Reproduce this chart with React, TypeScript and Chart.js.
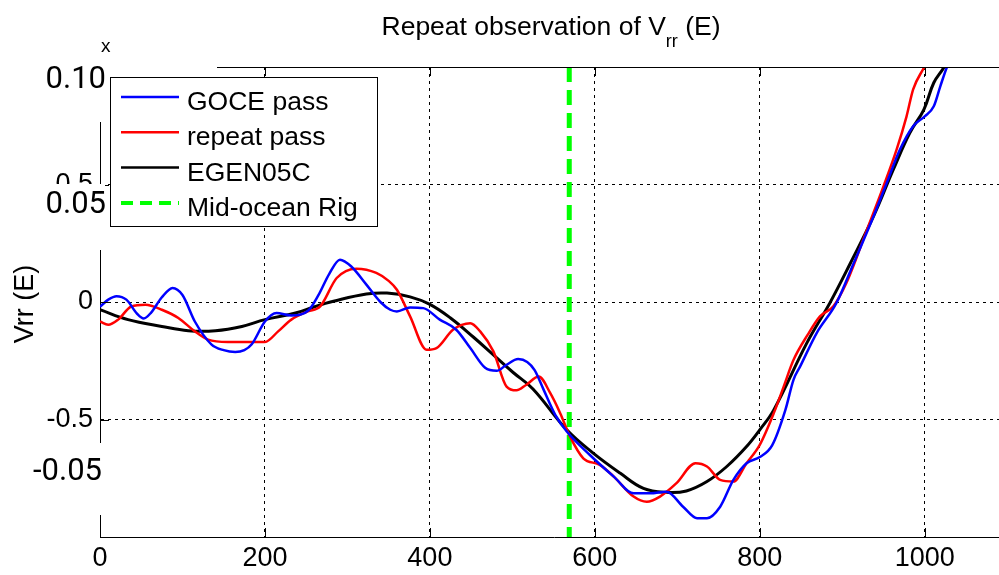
import React, { useEffect, useRef } from 'react';
import { Chart, registerables } from 'chart.js';

Chart.register(...registerables);

// ---- data ----
const goceX = [0, 10, 20, 32, 45, 53, 62, 75, 88, 100, 115, 135, 150, 164, 175, 184, 200, 214, 232, 253, 265, 278, 291, 305, 323, 340, 352, 360, 376, 392, 412, 432, 449, 467, 481, 493, 507, 518, 527, 538, 552, 566, 594, 623, 647, 667, 687, 707, 724, 736, 752, 768, 784, 800, 815, 831, 841, 849, 869, 893, 914, 938, 954, 970, 986, 1000, 1011, 1019, 1027, 1035];
const goceY = [-0.02, 0.01, 0.025, 0.01, -0.05, -0.07, -0.045, 0.02, 0.06, 0.03, -0.083, -0.18, -0.205, -0.213, -0.205, -0.18, -0.083, -0.047, -0.057, -0.035, 0.03, 0.12, 0.18, 0.15, 0.074, 0.0, -0.033, -0.04, -0.023, -0.026, -0.075, -0.118, -0.196, -0.28, -0.293, -0.267, -0.243, -0.255, -0.29, -0.374, -0.48, -0.551, -0.651, -0.743, -0.814, -0.814, -0.807, -0.871, -0.92, -0.92, -0.871, -0.757, -0.686, -0.66, -0.61, -0.46, -0.33, -0.274, -0.132, -0.004, 0.166, 0.365, 0.507, 0.649, 0.748, 0.79, 0.833, 0.919, 1.0, 1.06];

const repeatX = [0, 10, 22, 38, 55, 75, 95, 115, 131, 155, 180, 200, 216, 232, 252, 267, 287, 311, 335, 350, 360, 376, 396, 408, 428, 449, 461, 477, 493, 505, 517, 532, 546, 558, 570, 586, 606, 623, 647, 663, 679, 699, 722, 736, 752, 768, 784, 800, 817, 829, 841, 858, 873, 889, 905, 930, 950, 966, 978, 986, 999, 1008];
const repeatY = [-0.083, -0.097, -0.075, -0.019, -0.012, -0.033, -0.068, -0.125, -0.16, -0.17, -0.17, -0.17, -0.125, -0.075, -0.04, -0.019, 0.102, 0.142, 0.124, 0.09, 0.052, -0.061, -0.203, -0.196, -0.118, -0.09, -0.125, -0.21, -0.36, -0.376, -0.352, -0.317, -0.388, -0.473, -0.573, -0.665, -0.693, -0.743, -0.828, -0.85, -0.828, -0.771, -0.686, -0.7, -0.757, -0.764, -0.686, -0.608, -0.473, -0.36, -0.246, -0.14, -0.061, -0.019, 0.081, 0.308, 0.492, 0.649, 0.79, 0.905, 0.997, 1.06];

const egenX = [0, 34, 75, 107, 140, 172, 200, 237, 260, 283, 323, 348, 376, 400, 425, 453, 477, 501, 525, 566, 598, 631, 659, 687, 711, 736, 760, 784, 800, 817, 857, 885, 910, 938, 962, 982, 999, 1011, 1023, 1030];
const egenY = [-0.033, -0.075, -0.104, -0.122, -0.122, -0.104, -0.075, -0.047, -0.02, 0.003, 0.034, 0.038, 0.022, -0.01, -0.068, -0.15, -0.225, -0.3, -0.37, -0.544, -0.643, -0.729, -0.793, -0.81, -0.804, -0.764, -0.7, -0.615, -0.544, -0.459, -0.175, -0.004, 0.166, 0.365, 0.564, 0.72, 0.819, 0.933, 0.997, 1.05];

const ridgeX = [569, 569];
const ridgeY = [1, -1];

const xTickValues = [0, 200, 400, 600, 800, 1000];
const yTickValues = [-0.5, 0, 0.5];
const legendLabels = ['GOCE pass', 'repeat pass', 'EGEN05C', 'Mid-ocean Rig'];
const overlayLabels = ['0.10', '0.05', '-0.05'];
const titleMain = 'Repeat observation of V';
const titleSub = 'rr';
const titleEnd = ' (E)';
const yAxisTitle = 'Vrr (E)';
const exponentMark = 'x';

const FONT = "'Liberation Sans', Arial, sans-serif";

const toPts = (xs: number[], ys: number[]) => xs.map((x, i) => ({ x, y: ys[i] }));

const overlayPlugin = {
  id: 'overlay',
  afterDraw(chart: any) {
    const ctx = chart.ctx as CanvasRenderingContext2D;
    const { left, right, top, bottom } = chart.chartArea;
    const xs = chart.scales.x;
    const ys = chart.scales.y;
    ctx.save();

    // top border
    ctx.strokeStyle = '#000';
    ctx.lineWidth = 1;
    ctx.setLineDash([]);
    ctx.beginPath();
    ctx.moveTo(left, Math.round(top) + 0.5);
    ctx.lineTo(right, Math.round(top) + 0.5);
    ctx.stroke();

    // inward ticks
    const tl = 9;
    xTickValues.forEach((v) => {
      const px = Math.round(xs.getPixelForValue(v)) + 0.5;
      ctx.beginPath();
      ctx.moveTo(px, top);
      ctx.lineTo(px, top + tl);
      ctx.moveTo(px, bottom);
      ctx.lineTo(px, bottom - tl);
      ctx.stroke();
    });
    yTickValues.forEach((v) => {
      const py = Math.round(ys.getPixelForValue(v)) + 0.5;
      ctx.beginPath();
      ctx.moveTo(left, py);
      ctx.lineTo(left + tl, py);
      ctx.stroke();
    });

    // white patches with replacement labels
    ctx.fillStyle = '#fff';
    ctx.fillRect(30, 60, 187, 62);
    ctx.fillRect(30, 184, 75, 66);
    ctx.fillRect(25, 443, 77, 72);
    ctx.fillStyle = '#000';
    ctx.font = '31px Roboto, sans-serif';
    ctx.textAlign = 'right';
    ctx.textBaseline = 'alphabetic';
    ctx.fillText(overlayLabels[0], 106, 88);
    ctx.fillText(overlayLabels[1], 106, 213);
    ctx.fillText(overlayLabels[2], 102, 480);

    // legend
    const lx = 110.5, ly = 77.5, lw = 267, lh = 149;
    ctx.fillStyle = '#fff';
    ctx.fillRect(lx, ly, lw, lh);
    ctx.strokeStyle = '#000';
    ctx.lineWidth = 1;
    ctx.strokeRect(lx, ly, lw, lh);
    ctx.font = `26.5px ${FONT}`;
    ctx.textAlign = 'left';
    chart.data.datasets.forEach((ds: any, i: number) => {
      const cy = 97 + i * 35.3;
      ctx.strokeStyle = ds.borderColor;
      ctx.lineWidth = i === 3 ? 4 : 2.5;
      ctx.setLineDash(i === 3 ? [12, 7] : []);
      ctx.beginPath();
      ctx.moveTo(121, cy);
      ctx.lineTo(179, cy);
      ctx.stroke();
      ctx.setLineDash([]);
      ctx.fillStyle = '#000';
      ctx.fillText(ds.label, 187, cy + 13);
    });

    // title with subscript
    const mainFont = `26.5px ${FONT}`;
    const subFont = `18px ${FONT}`;
    ctx.font = mainFont;
    const w1 = ctx.measureText(titleMain).width;
    const w3 = ctx.measureText(titleEnd).width;
    ctx.font = subFont;
    const w2 = ctx.measureText(titleSub).width;
    const total = w1 + w2 + w3;
    let tx = 551 - total / 2;
    ctx.fillStyle = '#000';
    ctx.font = mainFont;
    ctx.fillText(titleMain, tx, 35);
    tx += w1;
    ctx.font = subFont;
    ctx.fillText(titleSub, tx, 47);
    tx += w2;
    ctx.font = mainFont;
    ctx.fillText(titleEnd, tx, 35);

    // exponent remnant
    ctx.font = `19px ${FONT}`;
    ctx.fillText(exponentMark, 101, 52);

    // y axis title
    ctx.save();
    ctx.translate(26, 304);
    ctx.rotate(-Math.PI / 2);
    ctx.font = `27px ${FONT}`;
    ctx.textAlign = 'center';
    ctx.textBaseline = 'middle';
    ctx.fillText(yAxisTitle, 0, 0);
    ctx.restore();

    ctx.restore();
  },
};

export default function App() {
  const ref = useRef<HTMLCanvasElement>(null);
  useEffect(() => {
    const canvas = ref.current;
    if (!canvas) return;
    const chart = new Chart(canvas, {
      type: 'line',
      data: {
        datasets: [
          { label: legendLabels[0], data: toPts(goceX, goceY), borderColor: '#0000ff', borderWidth: 2.5, pointRadius: 0, cubicInterpolationMode: 'monotone' },
          { label: legendLabels[1], data: toPts(repeatX, repeatY), borderColor: '#ff0000', borderWidth: 2.5, pointRadius: 0, cubicInterpolationMode: 'monotone' },
          { label: legendLabels[2], data: toPts(egenX, egenY), borderColor: '#000000', borderWidth: 3, pointRadius: 0, tension: 0.4 },
          { label: legendLabels[3], data: toPts(ridgeX, ridgeY), borderColor: '#00ff00', borderWidth: 5, borderDash: [15, 8], pointRadius: 0, tension: 0 },
        ],
      } as any,
      options: {
        animation: false,
        responsive: false,
        devicePixelRatio: 1,
        layout: { padding: { top: 67, right: 2, left: 0, bottom: 0 } },
        plugins: { legend: { display: false }, title: { display: false }, tooltip: { enabled: false } },
        scales: {
          x: {
            type: 'linear',
            min: 0,
            max: 1101,
            afterBuildTicks: (s: any) => { s.ticks = xTickValues.map((v) => ({ value: v })); },
            afterFit: (s: any) => { s.height = 38; },
            ticks: { font: { family: FONT, size: 27 }, color: '#000', padding: 5, maxRotation: 0, autoSkip: false, callback: (v: any) => String(v) },
            grid: { drawTicks: false, lineWidth: 1, color: (c: any) => (c.tick && c.tick.value === 0 ? 'rgba(0,0,0,0)' : '#000') },
            border: { display: true, color: '#000', width: 1, dash: [3, 4] },
          },
          y: {
            type: 'linear',
            min: -1,
            max: 1,
            afterBuildTicks: (s: any) => { s.ticks = yTickValues.map((v) => ({ value: v })); },
            afterFit: (s: any) => { s.width = 100; },
            ticks: { font: { family: FONT, size: 27 }, color: '#000', padding: 7, callback: (v: any) => String(v) },
            grid: { drawTicks: false, lineWidth: 1, color: '#000' },
            border: { display: true, color: '#000', width: 1, dash: [3, 4] },
          },
        },
      } as any,
      plugins: [overlayPlugin],
    });
    return () => chart.destroy();
  }, []);
  return (
    <div style={{ position: 'fixed', left: 0, top: 0, width: 999, height: 575, overflow: 'hidden', background: '#fff' }}>
      <canvas ref={ref} width={1010} height={575} style={{ width: 1010, height: 575, display: 'block' }} />
    </div>
  );
}
